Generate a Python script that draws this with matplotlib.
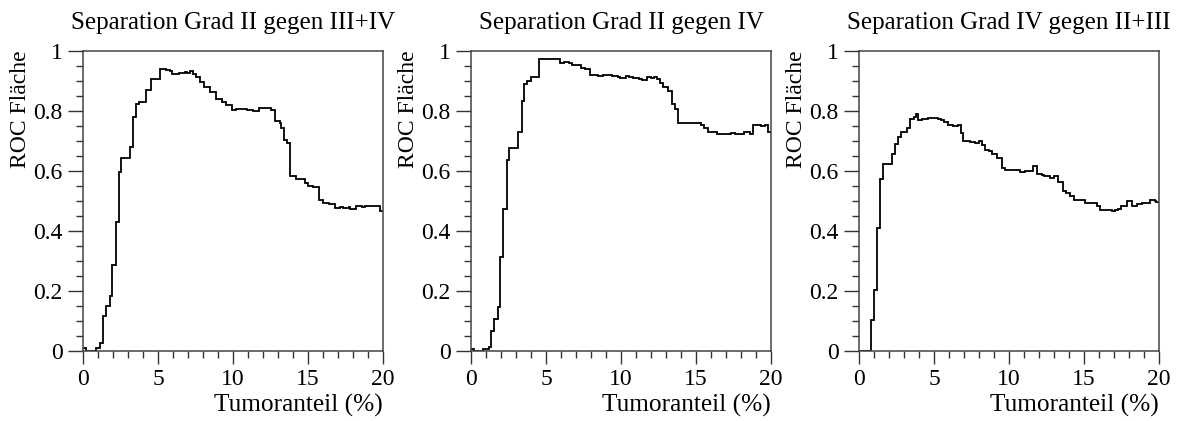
import numpy as np
import matplotlib
matplotlib.use("Agg")
import matplotlib.pyplot as plt
from matplotlib.ticker import MultipleLocator, FuncFormatter

plt.rcParams['font.family'] = ['Liberation Serif', 'DejaVu Serif']

titles = ["Separation Grad II gegen III+IV",
          "Separation Grad II gegen IV",
          "Separation Grad IV gegen II+III"]
x_label = "Tumoranteil (%)"
y_label = "ROC Fläche"

# Stufen: linke Kante jeder Stufe und ROC-Wert
starts_1 = [0, 0.2, 0.84, 1.16, 1.33, 1.56, 1.78, 1.96, 2.18, 2.4, 2.56, 3.16, 3.33,
            3.56, 3.73, 4.18, 4.56, 5.16, 5.5, 5.8, 5.96, 6.4, 6.8, 6.96, 7.1, 7.3,
            7.56, 7.8, 8.04, 8.44, 8.84, 9.29, 9.5, 9.9, 10.2, 10.9, 11.3, 11.7,
            12.2, 12.5, 12.8, 13.1, 13.2, 13.4, 13.6, 13.8, 14.2, 14.8, 15.0, 15.3,
            15.7, 16.0, 16.4, 16.8, 17.1, 17.3, 17.7, 17.8, 18.2, 18.6, 18.8, 19.8]
roc_1 = [0.008, 0.0, 0.008, 0.027, 0.116, 0.149, 0.182, 0.286, 0.43, 0.597, 0.641,
         0.678, 0.78, 0.822, 0.83, 0.869, 0.906, 0.939, 0.936, 0.933, 0.924, 0.927,
         0.93, 0.927, 0.934, 0.921, 0.911, 0.897, 0.88, 0.863, 0.838, 0.828, 0.819,
         0.802, 0.806, 0.802, 0.80, 0.81, 0.808, 0.802, 0.767, 0.76, 0.744, 0.704,
         0.691, 0.583, 0.571, 0.558, 0.55, 0.544, 0.504, 0.493, 0.489, 0.477, 0.48,
         0.477, 0.48, 0.474, 0.482, 0.478, 0.482, 0.467]

starts_2 = [0, 0.2, 0.8, 1.2, 1.33, 1.56, 1.78, 1.93, 2.16, 2.38, 2.56, 3.16, 3.38,
            3.56, 3.73, 4.0, 4.18, 4.5, 4.96, 5.18, 5.5, 5.9, 6.2, 6.56, 6.7, 7.3,
            7.6, 7.9, 8.44, 8.8, 9.4, 9.8, 9.96, 10.3, 10.5, 10.8, 11.2, 11.4, 11.7,
            12.0, 12.2, 12.4, 12.6, 12.8, 13.1, 13.4, 13.6, 13.8, 15.3, 15.5, 15.8,
            16.4, 17.0, 17.3, 17.6, 18.2, 18.6, 18.8, 19.3, 19.6, 19.8]
roc_2 = [0.005, 0.0, 0.005, 0.011, 0.066, 0.106, 0.147, 0.313, 0.474, 0.636, 0.677,
         0.728, 0.833, 0.888, 0.899, 0.911, 0.913, 0.971, 0.972, 0.974, 0.972, 0.958,
         0.961, 0.958, 0.953, 0.944, 0.939, 0.92, 0.917, 0.919, 0.917, 0.913, 0.91,
         0.916, 0.913, 0.91, 0.907, 0.902, 0.913, 0.91, 0.912, 0.906, 0.893, 0.878,
         0.867, 0.821, 0.806, 0.758, 0.752, 0.744, 0.73, 0.721, 0.723, 0.727, 0.721,
         0.73, 0.724, 0.751, 0.75, 0.753, 0.73]

starts_3 = [0, 0.8, 1.0, 1.18, 1.4, 1.62, 2.18, 2.4, 2.62, 2.8, 3.18, 3.4, 3.69, 3.8,
            3.96, 4.18, 4.4, 4.58, 5.07, 5.24, 5.47, 5.69, 5.96, 6.29, 6.62, 6.8,
            6.96, 7.4, 7.73, 8.0, 8.2, 8.4, 8.67, 8.89, 9.18, 9.5, 9.73, 10.2, 10.7,
            11.07, 11.62, 11.84, 12.18, 12.3, 12.5, 12.7, 13.0, 13.24, 13.58, 13.8,
            14.07, 14.36, 15.07, 15.84, 16.07, 16.84, 17.07, 17.24, 17.47, 17.84,
            18.2, 18.5, 18.84, 19.4, 19.7, 19.8]
roc_3 = [0.0, 0.102, 0.204, 0.41, 0.574, 0.621, 0.656, 0.689, 0.711, 0.728, 0.741,
         0.772, 0.78, 0.789, 0.769, 0.772, 0.771, 0.776, 0.777, 0.773, 0.769, 0.763,
         0.754, 0.75, 0.752, 0.727, 0.699, 0.697, 0.693, 0.699, 0.686, 0.669, 0.667,
         0.654, 0.641, 0.608, 0.604, 0.602, 0.597, 0.6, 0.617, 0.588, 0.586, 0.582,
         0.583, 0.577, 0.582, 0.561, 0.532, 0.524, 0.516, 0.504, 0.491, 0.483, 0.469,
         0.466, 0.469, 0.474, 0.483, 0.499, 0.483, 0.489, 0.491, 0.502, 0.5, 0.497]

x_max = 20
panels = [(starts_1, roc_1), (starts_2, roc_2), (starts_3, roc_3)]
lefts = [83, 471, 859]

W, H = 1182, 421
fig = plt.figure(figsize=(W / 100, H / 100), dpi=100)

fmt = FuncFormatter(lambda v, p: f"{v:g}")

for i, (starts, roc) in enumerate(panels):
    ax = fig.add_axes([lefts[i] / W, 1 - 350.7 / H, 300 / W, 300 / H])
    edges = np.array(starts + [x_max])
    ax.stairs(roc, edges, baseline=None, color='black', linewidth=1.3)
    ax.set_xlim(0, x_max)
    ax.set_ylim(0, 1)

    ax.xaxis.set_major_locator(MultipleLocator(5))
    ax.xaxis.set_minor_locator(MultipleLocator(1))
    ax.yaxis.set_major_locator(MultipleLocator(0.2))
    ax.yaxis.set_minor_locator(MultipleLocator(0.05))
    ax.xaxis.set_major_formatter(fmt)
    ax.yaxis.set_major_formatter(fmt)
    ax.tick_params(which='both', direction='out', width=1, color='#333333')
    ax.tick_params(axis='x', which='major', length=9.5, labelsize=17, pad=3.5)
    ax.tick_params(axis='y', which='major', length=10.8, labelsize=17, pad=4)
    ax.tick_params(axis='x', which='minor', length=4.8)
    ax.tick_params(axis='y', which='minor', length=5)
    for sp in ax.spines.values():
        sp.set_color('#444444')
        sp.set_linewidth(1.1)

    ax.text(0.5, 1.073, titles[i], transform=ax.transAxes, ha='center',
            va='baseline', fontsize=18)
    ax.text(1.0, -0.204, x_label, transform=ax.transAxes, ha='right',
            va='baseline', fontsize=18.3)
    ax.text(-0.207, 1.0, y_label, transform=ax.transAxes, rotation=90,
            ha='center', va='top', fontsize=17)

fig.savefig("out.png", dpi=100)
